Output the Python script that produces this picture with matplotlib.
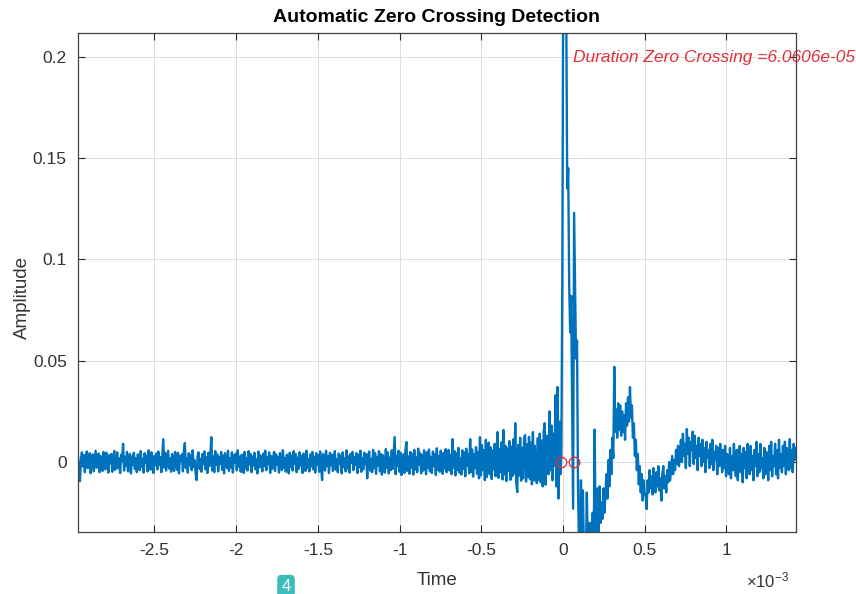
import numpy as np
import matplotlib
matplotlib.use("Agg")
import matplotlib.pyplot as plt
from matplotlib.ticker import FixedLocator, FuncFormatter

plt.rcParams['font.family'] = ['Liberation Sans', 'DejaVu Sans']
plt.rcParams['mathtext.fontset'] = 'custom'
plt.rcParams['mathtext.rm'] = 'Liberation Sans'
plt.rcParams['axes.unicode_minus'] = False

# --- signal, amplitudes in units of 1e-4 ---
dt = 6e-6  # sampling step

# segment A: pre-trigger noise
seg_a_t0 = -2.968e-3
seg_a_amp = [
    25, -40, -94, 10, 48, -22, 35, -50, 15, 52, -30, -8, 44, -55, 20, 38, -46, 5, 56, -28,
    -12, 42, -50, 30, 8, -44, 50, -20, -36, 46, 12, -52, 34, -6, 40, -48, 22, 55, -38, -10,
    48, -30, 18, -54, 36, 4, 90, -42, 26, -18, 50, -46, 10, 40, -56, 28, -14, 46, -34, 20,
    -50, 38, 6, -40, 54, -24, 16, -52, 44, -4, 32, -46, 58, -20, -38, 48, 14, -54, 30, -16,
    42, -36, 52, -12, 24, -50, 36, 113, -28, 46, -42, 8, 56, -32, 18, -48, 40, -6, -44, 50,
    12, -38, 46, -56, 28, 2, 38, -46, 54, 94, -30, 20, -52, 44, -16, 34, -40, 58, -24, 10,
    -58, -89, 30, 48, -34, 16, -48, 40, -10, 52, -36, 24, -54, 46, -20, 36, 123, -42, 28, -50,
    54, -14, 38, -46, 22, -8, 50, -38, 32, -56, 44, 6, -30, 56, -44, 18, -26, 48, -52, 34,
    -4, 42, -40, 58, -22, 26, -48, 36, 10, -54, 50, -32, 20, -42, 54, -12, 40, -50, 28, -18,
    46, -36, 14, -56, 52, -26, 34, 4, -46, 42, -20, 56, -40, 24, -8, 48, -54, 30, -34, 18,
    50, -44, 38, -14, 26, -52, 44, -6, -40, 58, -28, 20, -48, 36, 12, -56, 46, -24, 32, -42,
    54, -10, 40, -50, 22, -34, 48, -18, 30, -54, 42, 2, -44, 56, -30, 16, -46, 38, -22, 50,
    -36, 26, -52, 44, -12, 34, -48, 52, -28, -89, 40, 8, -42, 56, -20, 30, -54, 46, -16, 36,
    -44, 22, 54, -38, 14, -50, 42, -8, 32, -56, 48, -24, 18, -46, 58, -32, 28, -52, 40, -4,
    50, -40, 24, -14, 44, -54, 36, -26, 56, -48, 20, -36, 46, -10, 38, -80, 30, 52, -42, 16,
    -50, 60, -30, 44, -58, 26, -18, 54, -46, 40, -62, 34, 8, -52, 64, -28, 48, -56, 22, -40,
    58, -34, 42, 123, -60, 30, -20, 56, -48, 46, -64, 18, 38, -54, 62, 99, -44, 28, -58, 50,
    -26, 40, -62, 60, -36, 22, -50, 66, -14, 44, -56, 34, -42, 58, 10, -60, 48, -30, 62, -46,
    26, -54, 52, -20, 40, -64, 68, -38, 30, -48, 56, -10, -58, 46, -32, 64, -50, 24, 60, -42,
    36, -60, 113, -28, 54, -66, 44, -40, 70, -52, 20, -62, 58, -34, 48, -70, 66, -18, 40, -56,
    113, -48, 62, -72, 38, -30, 74, -58, 50, -80, 123, -66, 84, -40, 60, -89, 110, -74, 46, 96,
    -60, 72, -84, 58, -36, 90, -70, 52, 148, -78, 64, -50, 98, -86, 158, -62, 80, -94, 68, -44,
    104, -88, 76, -70, 112, -56, 192, -100, -148, 84, -66, 120, -92, 70, -80, 116, 133, -96, 88, -74,
    124, -84, 96, -110, 148, -90, 80, -60, -104, 118, -88, 140, -100, 106, -120, 150, 192, -112, 130,
]
# segment B: the burst around the trigger
seg_b_t0 = -0.094e-3
seg_b_amp = [
    120, -60, 250, -40, 180, -90, 140, -20, 330, -120,
    370, -180, 200, -60, 30, 900, 2500, 2350, 2600, 2250,
    1350, 1450, 880, 640, 820, 320, -230, 1230, 880, 510,
    600, -120, -420, -380, -90, -400, -140, -450, -380, -480,
    -150, -420, -500, -300, -460, -380, -250, -420, 160, -400,
    -480, -130, -380, -120, -300, -200, -280, -130, -250, -160,
    -60, -180, 10, -120, 60, -60, 120, 20, 470, 150,
    260, 120, 290, 160, 280, 130, 250, 150, 230, 110,
    290, 180, 320, 200, 370, 220, 280, 120, 190, 30,
    110, -40, 40, -110, -20, -150, -60, -190, -90, -160,
]
# segment C: recovery and tail
seg_c_t0 = 0.506e-3
seg_c_amp = [
    -160, -232, -90, -150, -40, -130, -70, -160, -30, -110, -150, -50, -120, -20, -140, -80, -190, -60, -20, -130,
    -70, -150, -40, -100, 0, -90, -30, 30, -60, 10, -40, 60, -10, 80, -20, 40, 110, 0, 140, 30,
    90, -30, 163, 40, 120, -20, 100, 60, 150, -10, 130, 20, 80, -40, 120, 30, 90, -20, 110, 0,
    70, -50, 100, 20, 60, -30, 90, -10, 110, -40, 50, 10, 80, -60, 70, -20, 90, 30, -50, 60,
    -30, 80, -70, 40, 10, -60, 70, -80, 30, -40, 90, -20, -70, 60, -90, 20, 80, -50, 40, -100,
    70, -30, 50, -80, 90, 0, -60, 80, -40, 30, -90, 60, -20, 100, -70, 40, -50, 90, -30, 20,
    -80, 70, -60, 50, 10, -90, 80, -40, 100, -70, 30, -20, 90, -60, 60, -80, 110, -30, 40, -50,
    80, -20, 100, -60, 70, 0, -40, 113, -30, 60, -50, 90, 10, 70,
]

# detected zero crossings
cross_t = [-0.012e-3, 0.066e-3]
cross_amp = [0.0, 0.0]
duration_text = "Duration Zero Crossing =6.0606e-05"

x_ticks_ms = [-2.5, -2, -1.5, -1, -0.5, 0, 0.5, 1]
y_ticks = [0, 0.05, 0.1, 0.15, 0.2]


def seg_time(t0, vals):
    return t0 + dt * np.arange(len(vals))


t = np.concatenate([seg_time(seg_a_t0, seg_a_amp),
                    seg_time(seg_b_t0, seg_b_amp),
                    seg_time(seg_c_t0, seg_c_amp)])
amp = np.array(seg_a_amp + seg_b_amp + seg_c_amp) * 1e-4

fig = plt.figure(figsize=(8.56, 5.94), dpi=100)
ax = fig.add_axes([0.0911, 0.1044, 0.8388, 0.8400])

ax.plot(t, amp, color='#0072BD', lw=1.7, zorder=2)
ax.plot(cross_t, cross_amp, 'o', mfc='none', mec='#e0303a', ms=7.5, mew=1.0, zorder=3)

ax.set_xlim(-2.968e-3, 1.426e-3)
ax.set_ylim(-0.0345, 0.2117)

ax.xaxis.set_major_locator(FixedLocator([v * 1e-3 for v in x_ticks_ms]))
ax.xaxis.set_major_formatter(FuncFormatter(lambda v, p: f"{v * 1e3:g}"))
ax.yaxis.set_major_locator(FixedLocator(y_ticks))
ax.yaxis.set_major_formatter(FuncFormatter(lambda v, p: f"{v:g}"))

ax.grid(True, color='#dcdcdc', lw=0.7)
ax.set_axisbelow(True)
ax.tick_params(direction='in', top=True, right=True, length=5, width=0.8,
               colors='#262626', labelsize=12.5, labelcolor='#333333', pad=8)
for s in ax.spines.values():
    s.set_color('#404040')
    s.set_linewidth(0.9)

ax.set_title("Automatic Zero Crossing Detection", fontsize=14, fontweight='bold', pad=8)
ax.set_xlabel("Time", fontsize=13.5, color='#333333')
ax.set_ylabel("Amplitude", fontsize=13.5, color='#333333')
ax.xaxis.set_label_coords(0.5, -0.08)
ax.yaxis.set_label_coords(-0.066, 0.47)

ax.text(0.99, -0.097, r'$\times\mathregular{10^{-3}}$', transform=ax.transAxes,
        ha='right', va='center', fontsize=12, color='#333333')

ax.text(0.061e-3, 0.1995, duration_text, color='#e0303a', fontsize=12.5,
        style='italic', ha='left', va='center', clip_on=False, zorder=1)

# little badge at the bottom of the picture
fig.text(286 / 856, 0.0, "4", ha='center', va='bottom', color='white', fontsize=12,
         bbox=dict(boxstyle='round,pad=0.25', fc='#3bbdbd', ec='none'))

fig.savefig("out.png", dpi=100)
